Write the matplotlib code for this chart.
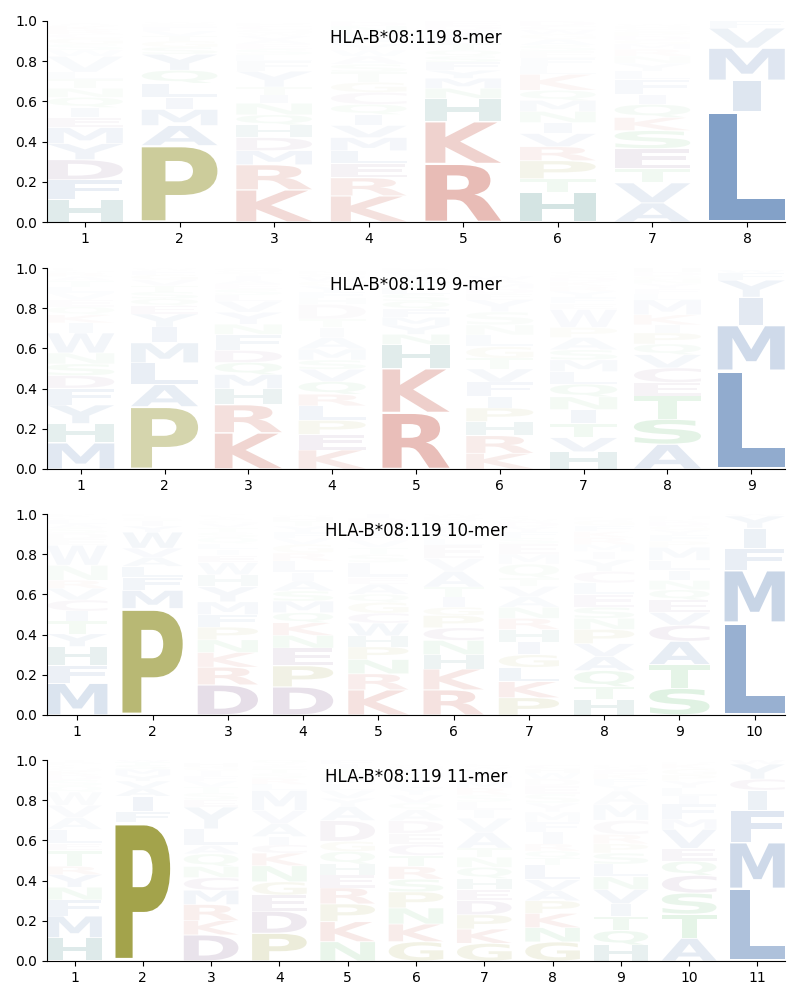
import matplotlib
matplotlib.use("Agg")
import matplotlib.pyplot as plt
from matplotlib.textpath import TextPath
from matplotlib.patches import PathPatch
from matplotlib.font_manager import FontProperties
from matplotlib.transforms import Affine2D
from matplotlib.colors import to_rgb

allele = "HLA-B*08:119"

# residue frequencies in percent, one string per position, listed bottom -> top
mer8 = [
    "H11 F10 D10 Y8 M8 E5 I5 Q5 N4.5 T4.5 L3.5 V8 W3 S3 G3 C2 R2 K2 A1.5",
    "P38 A10 M8 I6 L7 Q6.5 Y8 S3.5 G3 T2.5 V2.5 F2 E1.5 W1",
    "K16 R12.5 M7 D6.5 H6.3 Q5 N5.8 I4 T4 Y8 F5 L3 S3 E2.5 A2 V2 W1.5 G1.5 C2 P1.5",
    "K13 R9 E7 L6.5 M6.5 V6 I5.5 Q5 C6 G5 T5 S4 A4 W3 Y3 F3 H3 N3 D2 P1",
    "R29 K21 H11.5 N5 M5 Y4 F4 S3 Q3 T3 L3 A2 V2 D2 E2.5",
    "H15 T6.5 P9 R7 V6.5 I5.5 N5.5 M5.5 Q5 K8 L4 F4 E3.5 S3 A3 G2.5 W2 C2 D2.5",
    "A9.5 V10 T7 E10 S9 K6.5 Q6.5 I5 F7.5 L4 Y4 N3.5 R3.5 M2.5 G2 D2 P2 C1.5 H1.5 W1",
    "L55 I15.5 M16 V10 F3.5",
]
mer9 = [
    "M13 H9.6 Y9.3 F8.3 D6.3 S5.8 N5.4 W10 I5 K4 Q4 E3.5 V3.5 L3 T3 A2 R2 G1.3 C1",
    "P31 A11 L10.8 M10 I7.8 Y6.6 E4 Q3.5 S3.5 T3 V3 G2.5 F2 W1.3",
    "K18 R14 H8 M7 Q6 D6 F8 N5 Y6 V5.5 L3 S3 E2.5 A2 I2 T1.5 W1 G1.5",
    "K9.5 E7.7 P7 L7.2 R5.8 Q6.3 V6.1 S4.6 M5.5 A5.8 I5 T4 D7.5 H3 F3 Y3 G2.5 W2 C1.5 N1.5",
    "R28 K22 H12 N5 Y4.5 M4 F4 Q4 S3.5 L3 T3 A2.5 V2.5 E1.5 D1",
    "K7.8 R8.8 H7 P6.8 I5.8 F7 V6.6 T5.3 G5.8 L5.8 N5 S6.5 Y6 E3 D2.5 M2.5 A2 W1.8",
    "H8.6 V7 T7 I7 N6.3 Q6.3 L6.3 M5.8 S5 A6.1 P5 W9 E3 F3 Y3 R2.5 K2.5 D2 G1.5 C1.5",
    "A12.3 S12.5 T11.6 E6.6 C7.3 V6.6 Q5.3 P5.5 I4 K5 M7.5 L3 F2.5 Y2.5 N2 G1.8 D2 H2",
    "L49 M22.5 I14 Y8.5 F3.5 W1.5",
]
mer10 = [
    "M15.8 F9 H9.3 Y6.3 T6.3 I5 C5.5 V5.8 R4 N7.5 W10 E3 D3 S2.5 A2 L2 G1.3 K1.5",
    "P53 M9 F6.5 L5.5 A4.5 V4.5 W8 Y3 I2.5 S1.5 T1 E1",
    "D15 R8.8 K7.3 N6.3 P6.3 F6.3 M6.3 Y7.5 H6 W6 E3.5 I3 L3 Q3 S2.5 T2.5 V2 G1.5 A1.5 C1.5",
    "D14 P10.5 E8.8 N6.3 K6.3 Q5 M5.8 S5 A5 I4.1 L5.8 R4 G4.3 V3 F3 Y3 T2.5 H2 W1.3",
    "K12.5 R8 N7.1 P6.3 H5.5 W6.3 C5 G5.3 Q4.1 A5 E3.3 L7.5 S4 T3.5 V3.5 F3 Y3 M2.5 D2.5 I2",
    "R12.5 K10.4 H7.1 N7.1 C6.3 P6.1 G4.1 I5 T5 A8 V6.3 E6.6 L3 M3 F2.5 Q2 Y2 D1.5 W1.5",
    "P8.6 K8 L7.1 G6.3 I6.3 H6.3 R5.5 N5.5 A5.2 V5.2 T4.1 Q7 M5 E5 S3 F3 Y2.5 D2.5 W1.5 C1.3",
    "H7.8 T6.3 Q8 A7.1 V6.3 P7.1 N5.5 S5.5 E6.3 L5.8 C5.8 Y5.8 I4 M3.5 R3.5 K3 F3 G2.5 D1.5",
    "S13.3 T11.8 A11.6 C8 V6.3 E6.3 Q5 N4.6 I5 L5 M6.6 P3 F3 Y2.5 G2 D2 K1.3 H1.5",
    "L46 M26 F11 I10 Y6 W1",
]
mer11 = [
    "H11.6 M10.8 F8 N6.3 Y6.3 R4.1 T8 E3.3 L7.1 A6 V6 W6.6 Q3 S3 D2.5 K2 G1.5 C1.3 P1.5 I1",
    "P69 F5.5 I7.5 A4 V3.5 Y3 M3 S2 T1.5 W1",
    "D13 K7.1 R8 M7.1 C6.3 N5.5 Q6.3 A4.1 L8.3 Y11 E3.5 S3.5 T3 V3 F2.5 I2.5 G2 H2",
    "P13.8 D11 E8 G6.6 N8 K6.3 C4.1 I4.1 A6.5 V6.5 M10 L3 R3 S2.5 T2 F1.5 Y1.3 Q2",
    "N9.6 K10 P8.8 R8 E6.3 H5.5 Q6.3 G5 D10.4 A7 Y4 V4 L3 M3 S2.5 T2.5 I2 F2",
    "G9.6 K8.8 N8 P8 S6.3 R6.3 T5.5 C5.5 E5.5 D6.3 A5.5 Q3.3 V4 Y3.5 L3 I2.5 M2 F2 H1.3 W1",
    "G8.8 K7.1 P7.1 D7.1 E5.5 H5.5 Q5.5 N5 T4.5 A8 V7 I4 L4 S3.5 R3.5 M3 C3 Y3 W1.5 F1.5",
    "G9.5 N7.1 K7.1 P6.3 A5.2 V5.2 L7.5 T3.3 Q3.5 R3.6 I5.8 F5 M5 Y4.5 S4.5 E4 D3.5 W3 H2 C2",
    "H8 Q7.1 T7.1 I6.3 V7.1 N6.3 L6.3 S5.5 P4.6 R4.6 C7.1 M8 A6.6 Y3 F3 K2.5 E2 G1.5 D1",
    "A11.3 T12 S10.5 C8.8 Q7.1 E6.3 V9.6 M5 F7.5 I4 L4 Y3.5 P3 G3 K2.5 D1",
    "L36 M23 F16 I10 C5.5 Y7.5 W2",
]
logos = [mer8, mer9, mer10, mer11]

group_color = {
    "hydrophobic": "#527bb3",
    "basic": "#c34f3f",
    "special": "#999936",
    "his": "#287873",
    "acidic": "#825a8c",
    "polar": "#50b45f",
}
aa_group = {}
for g, aas in [("hydrophobic", "AVLIMFWY"), ("basic", "KR"), ("special", "PG"),
               ("his", "H"), ("acidic", "DEC"), ("polar", "STNQ")]:
    for a in aas:
        aa_group[a] = g

fp = FontProperties(family="DejaVu Sans", weight="bold")
glyphs = {}


def get_glyph(ch):
    if ch not in glyphs:
        p = TextPath((0, 0), ch, size=1, prop=fp)
        glyphs[ch] = (p, p.get_extents())
    return glyphs[ch]


_, e_box = get_glyph("E")


def draw_letter(ax, ch, x, y0, h, alpha, width=0.8, vpad=0.045):
    path, box = get_glyph(ch)
    # stretch like logomaker: no wider stretch than 'E'
    sx = min(width / box.width, width / e_box.width)
    cw = sx * box.width
    sy = h * (1 - vpad) / box.height
    t = (Affine2D().translate(-box.x0, -box.y0)
         .scale(sx, sy)
         .translate(x - width / 2 + (width - cw) / 2, y0 + h * vpad / 2))
    r, g, b = to_rgb(group_color[aa_group[ch]])
    ax.add_patch(PathPatch(t.transform_path(path), facecolor=(r, g, b, alpha),
                           edgecolor="none", lw=0))


fig = plt.figure(figsize=(8, 10), dpi=100)
bottoms = [0.778, 0.531, 0.285, 0.039]

for logo, bot in zip(logos, bottoms):
    ax = fig.add_axes([0.059, bot, 0.922, 0.201])
    n = len(logo)
    for i, col in enumerate(logo):
        y = 0.0
        for rank, tok in enumerate(col.split()):
            h = float(tok[1:]) / 100
            # letters higher up the stack fade out
            a = min(1.0, 1.3 * h) * max(0.3, 1 - 0.06 * rank)
            draw_letter(ax, tok[0], i + 1, y, h, a)
            y += h
    ax.set_xlim(0.6, n + 0.4)
    ax.set_ylim(0, 1)
    ax.set_xticks(range(1, n + 1))
    ax.set_yticks([0, 0.2, 0.4, 0.6, 0.8, 1.0])
    ax.spines["top"].set_visible(False)
    ax.spines["right"].set_visible(False)
    ax.text(0.5, 0.96, f"{allele} {n}-mer", transform=ax.transAxes,
            ha="center", va="top", fontsize=12)

fig.savefig("out.png")
